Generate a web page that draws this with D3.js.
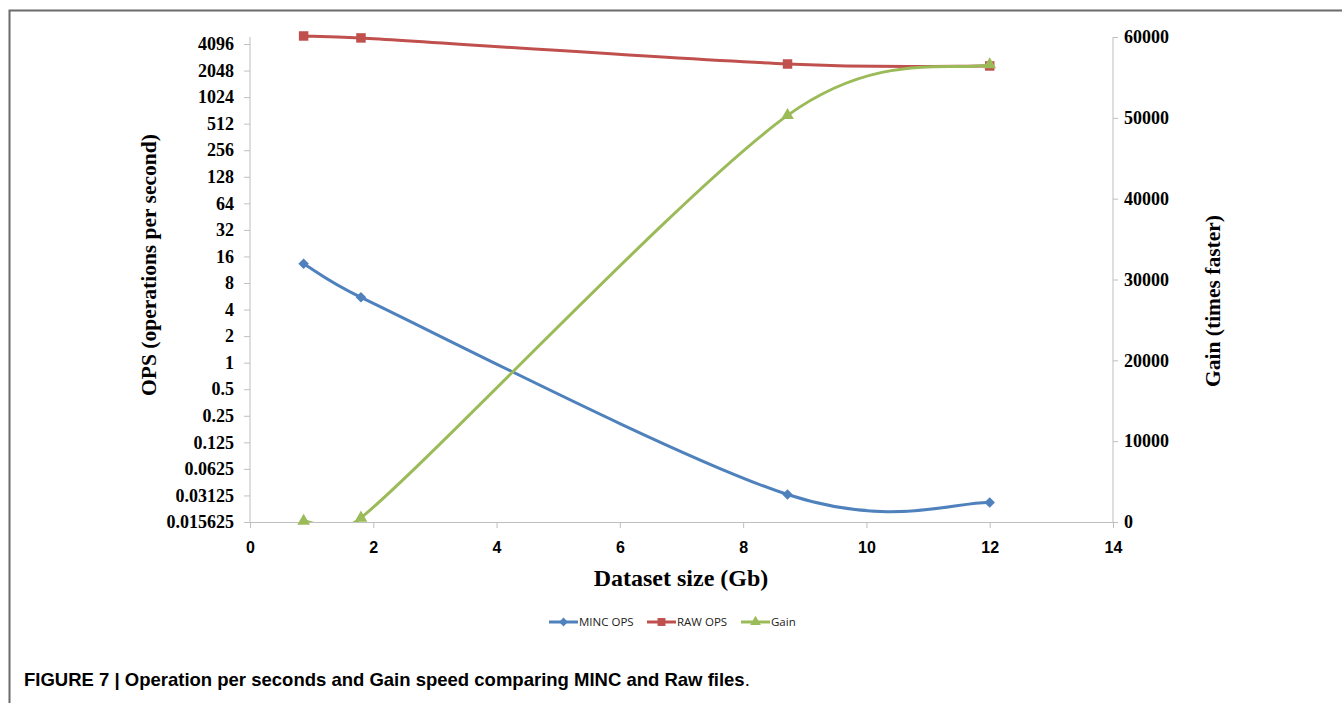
<!DOCTYPE html>
<html>
<head>
<meta charset="utf-8">
<script src="https://cdn.jsdelivr.net/npm/d3@7"></script>
<style>
  body { margin: 0; background: #fff; }
  svg { display: block; }
</style>
</head>
<body>
<svg id="chart" width="1342" height="703"></svg>
<script>
// data
let datasetSize = [0.87, 1.8, 8.72, 12]
let mincOps = [13.2, 5.5, 0.032, 0.026]
let rawOps = [5050, 4800, 2430, 2310]
let gain = [100, 500, 50300, 56600]

let opsTicks = [0.015625, 0.03125, 0.0625, 0.125, 0.25, 0.5, 1, 2, 4, 8, 16, 32, 64, 128, 256, 512, 1024, 2048, 4096]
let opsTickLabels = ['0.015625', '0.03125', '0.0625', '0.125', '0.25', '0.5', '1', '2', '4', '8', '16', '32', '64', '128', '256', '512', '1024', '2048', '4096']
let gainTicks = [0, 10000, 20000, 30000, 40000, 50000, 60000]
let sizeTicks = [0, 2, 4, 6, 8, 10, 12, 14]

let seriesNames = ['MINC OPS', 'RAW OPS', 'Gain']
let seriesColors = ['#4f81bd', '#c0504d', '#9bbb59']

// spreadsheet-style smoothing: catmull-rom arms, kept short on short segments
function SmoothCurve(context) {
    this._context = context
}
SmoothCurve.prototype = {
    areaStart: function() {},
    areaEnd: function() {},
    lineStart: function() { this._pts = [] },
    point: function(x, y) { this._pts.push([+x, +y]) },
    lineEnd: function() {
        let p = this._pts, c = this._context
        if (!p.length) return
        c.moveTo(p[0][0], p[0][1])
        for (let i = 0; i < p.length - 1; i++) {
            let p0 = p[Math.max(i - 1, 0)], p1 = p[i], p2 = p[i + 1], p3 = p[Math.min(i + 2, p.length - 1)]
            let len = Math.hypot(p2[0] - p1[0], p2[1] - p1[1])
            let a = [(p2[0] - p0[0]) / 6, (p2[1] - p0[1]) / 6]
            let b = [(p3[0] - p1[0]) / 6, (p3[1] - p1[1]) / 6]
            let clamp = (v) => {
                let l = Math.hypot(v[0], v[1]), m = len * 0.55
                return l > m ? [v[0] * m / l, v[1] * m / l] : v
            }
            a = clamp(a)
            b = clamp(b)
            c.bezierCurveTo(p1[0] + a[0], p1[1] + a[1], p2[0] - b[0], p2[1] - b[1], p2[0], p2[1])
        }
    }
}
let smooth = (context) => new SmoothCurve(context)

let svg = d3.select('#chart')

// frame round the figure
svg.append('path')
    .attr('d', 'M9.5,703 V10.5 H1342')
    .attr('fill', 'none')
    .attr('stroke', '#6b6b6b')
    .attr('stroke-width', 2)

let plotLeft = 250, plotRight = 1113, plotTop = 37, plotBottom = 522

let x = d3.scaleLinear().domain([0, 14]).range([plotLeft, plotRight])
let yOps = d3.scaleLog().base(2).domain([0.015625, 4096]).range([plotBottom, 44])
let yGain = d3.scaleLinear().domain([0, 60000]).range([plotBottom, plotTop])

// lines are cut at the plot area, like the spreadsheet does
svg.append('clipPath').attr('id', 'plotClip')
    .append('rect')
    .attr('x', plotLeft).attr('y', 20)
    .attr('width', plotRight - plotLeft).attr('height', plotBottom - 20)

let axisColor = '#bfbfbf'
let serif = '"Liberation Serif", "Times New Roman", serif'

// left axis
let leftAxis = svg.append('g')
    .attr('transform', 'translate(' + plotLeft + ',0)')
    .call(d3.axisLeft(yOps).tickValues(opsTicks).tickSize(6).tickPadding(10)
        .tickFormat((d, i) => opsTickLabels[i]))
leftAxis.select('.domain').remove()
leftAxis.append('line')
    .attr('y1', plotTop).attr('y2', plotBottom)
    .attr('stroke', axisColor)

// right axis
let rightAxis = svg.append('g')
    .attr('transform', 'translate(' + plotRight + ',0)')
    .call(d3.axisRight(yGain).tickValues(gainTicks).tickSize(5).tickPadding(6)
        .tickFormat(d3.format('d')))
rightAxis.select('.domain').remove()
rightAxis.append('line')
    .attr('y1', plotTop).attr('y2', plotBottom)
    .attr('stroke', axisColor)

// bottom axis
let bottomAxis = svg.append('g')
    .attr('transform', 'translate(0,' + plotBottom + ')')
    .call(d3.axisBottom(x).tickValues(sizeTicks).tickSize(6).tickPadding(14))
bottomAxis.select('.domain').attr('stroke', axisColor)

svg.selectAll('.tick line').attr('stroke', axisColor)
leftAxis.selectAll('text').attr('font-family', serif).attr('font-size', 18).attr('font-weight', 'bold').attr('fill', '#000')
rightAxis.selectAll('text').attr('font-family', serif).attr('font-size', 18).attr('font-weight', 'bold').attr('fill', '#000')
bottomAxis.selectAll('text').attr('font-family', '"Liberation Sans Narrow", "Liberation Sans", Arial, sans-serif')
    .attr('font-size', 16).attr('font-weight', 'bold').attr('fill', '#000')

// axis titles
svg.append('text')
    .attr('transform', 'translate(156,265) rotate(-90)')
    .attr('text-anchor', 'middle')
    .attr('font-family', serif).attr('font-size', 21.5).attr('font-weight', 'bold')
    .text('OPS (operations per second)')

svg.append('text')
    .attr('transform', 'translate(1220,301) rotate(-90)')
    .attr('text-anchor', 'middle')
    .attr('font-family', serif).attr('font-size', 21.5).attr('font-weight', 'bold')
    .text('Gain (times faster)')

svg.append('text')
    .attr('x', 681).attr('y', 586)
    .attr('text-anchor', 'middle')
    .attr('font-family', serif).attr('font-size', 24).attr('font-weight', 'bold')
    .text('Dataset size (Gb)')

// series (diamond = square turned 45 degrees)
let series = [
    { values: mincOps, scale: yOps, shape: d3.symbolSquare, size: 55, rot: 45 },
    { values: rawOps, scale: yOps, shape: d3.symbolSquare, size: 90, rot: 0 },
    { values: gain, scale: yGain, shape: d3.symbolTriangle, size: 70, rot: 0 }
]

let line = d3.line().curve(smooth)

series.forEach((s, i) => {
    let pts = datasetSize.map((d, j) => [x(d), s.scale(s.values[j])])
    svg.append('path')
        .attr('d', line(pts))
        .attr('clip-path', 'url(#plotClip)')
        .attr('fill', 'none')
        .attr('stroke', seriesColors[i])
        .attr('stroke-width', 3)
    svg.selectAll('.m' + i)
        .data(pts)
        .enter()
        .append('path')
        .attr('transform', (p) => 'translate(' + p[0] + ',' + p[1] + ') rotate(' + s.rot + ')')
        .attr('d', d3.symbol().type(s.shape).size(s.size))
        .attr('fill', seriesColors[i])
})

// legend
let legendX = [549, 647, 741]
let legend = svg.append('g').attr('transform', 'translate(0,622)')
seriesNames.forEach((name, i) => {
    let g = legend.append('g').attr('transform', 'translate(' + legendX[i] + ',0)')
    g.append('line').attr('x1', 0).attr('x2', 29)
        .attr('stroke', seriesColors[i]).attr('stroke-width', 3)
    g.append('path')
        .attr('transform', 'translate(14.5,0) rotate(' + series[i].rot + ')')
        .attr('d', d3.symbol().type(series[i].shape).size(series[i].size * 0.7))
        .attr('fill', seriesColors[i])
    g.append('text')
        .attr('x', 30).attr('y', 4)
        .attr('font-family', '"Open Sans", "Liberation Sans", sans-serif')
        .attr('font-size', 11.5)
        .attr('fill', '#222')
        .text(name)
})

// caption
let caption = svg.append('text')
    .attr('x', 24).attr('y', 686)
    .attr('font-family', '"Liberation Sans Narrow", "Liberation Sans", Arial, sans-serif')
    .attr('font-size', 18.5)
    .attr('fill', '#000')
caption.append('tspan').attr('font-weight', 'bold')
    .text('FIGURE 7 | Operation per seconds and Gain speed comparing MINC and Raw files')
caption.append('tspan').text('.')
</script>
</body>
</html>
